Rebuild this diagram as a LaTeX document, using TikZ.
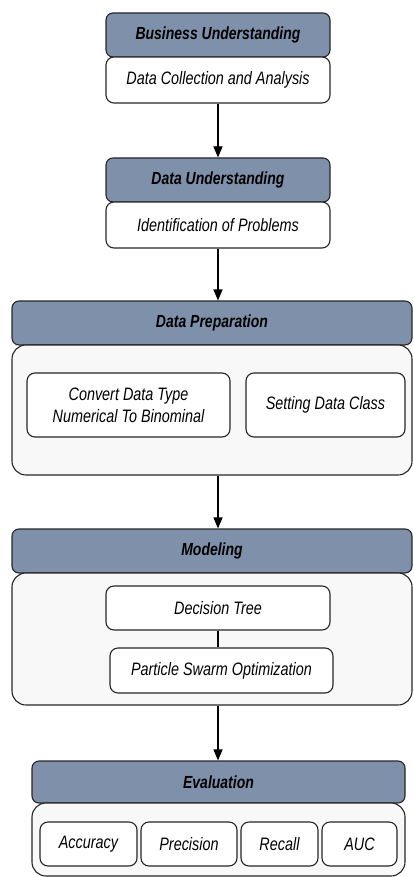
\documentclass[tikz,border=0pt]{standalone}
\usepackage{fontspec}
\setmainfont{Liberation Sans}[FakeStretch=0.8]
\usepackage{tikz}
\usetikzlibrary{arrows.meta,positioning}
\definecolor{headblue}{HTML}{7F90AB}
\definecolor{boxgrey}{HTML}{F8F8F8}
\tikzset{
	headnode/.style={rectangle, rounded corners=7pt, draw=black!85, fill=headblue, line width=1.1pt, font=\fontsize{17.5}{21}\selectfont\bfseries\itshape, inner sep=0pt},
	stepbox/.style={rectangle, rounded corners=8pt, draw=black!85, fill=white, line width=1.1pt, font=\fontsize{18}{22}\selectfont\itshape, align=center, inner sep=0pt},
	groupbox/.style={rectangle, rounded corners=14pt, draw=black!85, fill=boxgrey, line width=1.1pt, inner sep=0pt},
	flow/.style={-{Triangle[width=9pt,length=11pt]}, line width=1.1pt}
}
\begin{document}
\begin{tikzpicture}[x=1pt,y=-1pt]
			\useasboundingbox (0,0) rectangle (413,877);
			
			% business understanding
			\node[headnode, minimum width=224pt, minimum height=44pt] (buhead) at (218,35) {Business Understanding};
			\node[stepbox, minimum width=224pt, minimum height=46pt] (bubox) at (218,80) {Data Collection and Analysis};
			
			% data understanding
			\node[headnode, minimum width=224pt, minimum height=44pt] (duhead) at (218,180) {Data Understanding};
			\node[stepbox, minimum width=224pt, minimum height=46pt] (dubox) at (218,225) {Identification of Problems};
			
			% data preparation
			\node[headnode, minimum width=400pt, minimum height=44pt] (dphead) at (212,323) {Data Preparation};
			\node[groupbox, minimum width=400pt, minimum height=130pt] (dpgroup) at (212,410) {};
			\node[stepbox, minimum width=203pt, minimum height=64pt] (convert) at (128.5,405) {Convert Data Type\\Numerical To Binominal};
			\node[stepbox, minimum width=159pt, minimum height=64pt] (setclass) at (325.5,405) {Setting Data Class};
			
			% modeling
			\node[headnode, minimum width=400pt, minimum height=44pt] (mohead) at (212,551) {Modeling};
			\node[groupbox, minimum width=400pt, minimum height=132pt] (mogroup) at (212,639) {};
			\node[stepbox, minimum width=224pt, minimum height=44pt] (dtree) at (218,608) {Decision Tree};
			\node[stepbox, minimum width=223pt, minimum height=45pt] (pso) at (221.5,670.5) {Particle Swarm Optimization};
			
			% evaluation
			\node[headnode, minimum width=373pt, minimum height=42pt] (evhead) at (218.5,782) {Evaluation};
			\node[groupbox, minimum width=373pt, minimum height=73pt] (evgroup) at (218.5,839.5) {};
			\node[stepbox, minimum width=97pt, minimum height=44pt] (acc) at (88.5,844) {Accuracy};
			\node[stepbox, minimum width=96pt, minimum height=44pt] (prec) at (189,844) {Precision};
			\node[stepbox, minimum width=77pt, minimum height=44pt] (rec) at (279.5,844) {Recall};
			\node[stepbox, minimum width=75pt, minimum height=44pt] (auc) at (359.5,844) {AUC};
			
			% connectors
			\draw[flow] (bubox.south) -- (duhead.north);
			\draw[flow] (dubox.south) -- (dubox.south |- dphead.north);
			\draw[flow] (dpgroup.south -| dubox.south) -- (dubox.south |- mohead.north);
			\draw[line width=1.1pt] (dtree.south -| dubox.south) -- (dubox.south |- pso.north);
			\draw[flow] (mogroup.south -| dubox.south) -- (dubox.south |- evhead.north);
		\end{tikzpicture}
\end{document}
